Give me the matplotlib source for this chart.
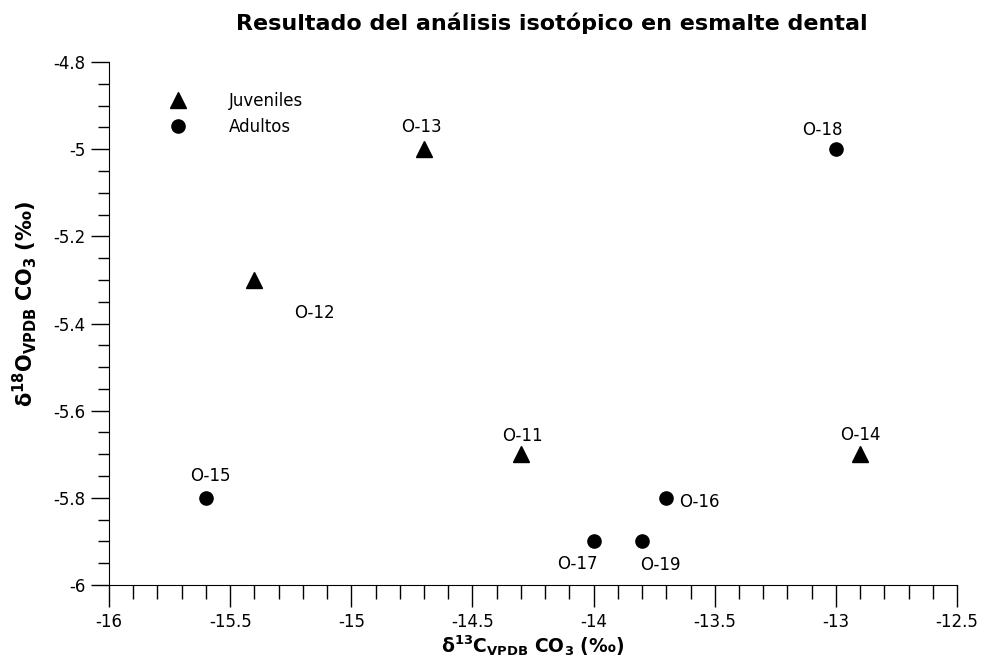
import matplotlib
matplotlib.use("Agg")
import matplotlib.pyplot as plt
from matplotlib.ticker import MultipleLocator

# data
juv_names = ["O-13", "O-12", "O-11", "O-14"]
juv_c13 = [-14.7, -15.4, -14.3, -12.9]
juv_o18 = [-5.0, -5.3, -5.7, -5.7]

adu_names = ["O-18", "O-15", "O-16", "O-17", "O-19"]
adu_c13 = [-13.0, -15.6, -13.7, -14.0, -13.8]
adu_o18 = [-5.0, -5.8, -5.8, -5.9, -5.9]

# label offsets (points)
offs = {"O-13": (-1.5, 16), "O-18": (-10, 14), "O-14": (0, 14), "O-11": (1, 13),
        "O-15": (3, 16), "O-12": (43, -24), "O-16": (24, -3), "O-17": (-12, -16),
        "O-19": (13, -17)}

plt.rcParams['font.family'] = 'DejaVu Sans'
plt.rcParams['mathtext.fontset'] = 'dejavusans'

fig = plt.figure(figsize=(9.84, 6.67), dpi=100)
ax = fig.add_axes([0.1108, 0.1229, 0.8618, 0.7841])

ax.plot(juv_c13, juv_o18, linestyle='none', marker='^', ms=12, color='black', label='Juveniles')
ax.plot(adu_c13, adu_o18, linestyle='none', marker='o', ms=9.5, color='black', label='Adultos')

for n, x, y in zip(juv_names + adu_names, juv_c13 + adu_c13, juv_o18 + adu_o18):
    ax.annotate(n, (x, y), xytext=offs[n], textcoords='offset points',
                ha='center', va='center', fontsize=12)

ax.set_xlim(-16, -12.5)
ax.set_ylim(-6, -4.8)
ax.xaxis.set_minor_locator(MultipleLocator(0.1))
ax.yaxis.set_minor_locator(MultipleLocator(0.05))
xt = [-16, -15.5, -15, -14.5, -14, -13.5, -13, -12.5]
ax.set_xticks(xt)
ax.set_xticklabels(['%g' % v for v in xt])
yt = [-6, -5.8, -5.6, -5.4, -5.2, -5, -4.8]
ax.set_yticks(yt)
ax.set_yticklabels(['%g' % v for v in yt])

ax.spines['top'].set_visible(False)
ax.spines['right'].set_visible(False)
ax.tick_params(axis='x', which='major', length=16, width=1, labelsize=12, pad=4)
ax.tick_params(axis='x', which='minor', length=10, width=1)
ax.tick_params(axis='y', which='major', length=13, width=1, labelsize=12, pad=4)
ax.tick_params(axis='y', which='minor', length=8, width=1)

ax.set_xlabel(r'$\mathbf{\delta^{13}C_{VPDB}\ CO_3\ (‰)}$', fontsize=13.5, labelpad=2)
ax.set_ylabel(r'$\mathbf{\delta^{18}O_{VPDB}\ CO_3\ (‰)}$', fontsize=15)
ax.yaxis.set_label_coords(-0.083, 0.537)

ax.legend(loc='upper left', bbox_to_anchor=(0.0435, 0.971), frameon=False, fontsize=12,
          handletextpad=2.05, labelspacing=0.46, borderpad=0.4)

fig.text(0.561, 0.965, 'Resultado del análisis isotópico en esmalte dental',
         ha='center', va='center', fontsize=16, fontweight='bold')

fig.savefig('out.png', dpi=100)
